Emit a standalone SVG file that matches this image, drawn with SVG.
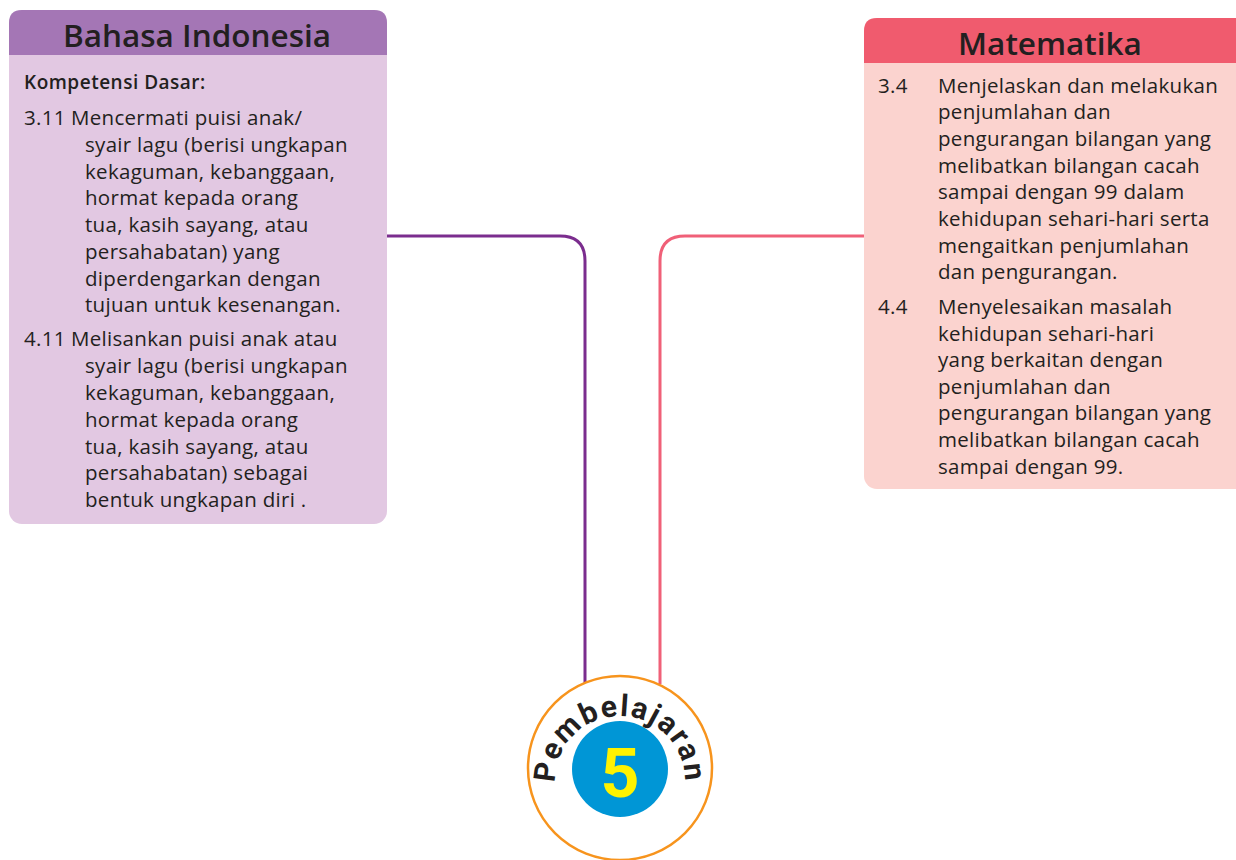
<svg xmlns="http://www.w3.org/2000/svg" width="1236" height="860" viewBox="0 0 1236 860">
<style>
.t{font-family:"Open Sans","Liberation Sans",sans-serif;font-size:20.5px;letter-spacing:0.3px;fill:#231f20}
.h{font-family:"Open Sans","Liberation Sans",sans-serif;font-size:31.5px;font-weight:600;fill:#231f20;text-anchor:middle}
.b{font-family:"Open Sans","Liberation Sans",sans-serif;font-size:19px;letter-spacing:0.5px;font-weight:600;fill:#231f20}
</style>
<rect width="1236" height="860" fill="#fff"/>
<g id="connectors" fill="none" stroke-width="3">
<path d="M387,236 H560 Q585,236 585,261 V684" stroke="#7b2d8e"/>
<path d="M864,236 H685 Q660,236 660,261 V684" stroke="#f06078"/>
</g>
<g id="bahasa">
<rect x="9" y="10" width="378" height="514" rx="13" fill="#e2c8e2"/>
<path d="M9,55 V23 Q9,10 22,10 H374 Q387,10 387,23 V55 Z" fill="#a476b5"/>
<text class="h" x="197" y="47">Bahasa Indonesia</text>
<text class="b" x="24" y="89">Kompetensi Dasar:</text>
<text class="t" x="24" y="125">3.11</text>
<text class="t" x="71" y="125">Mencermati puisi anak/</text>
<text class="t" x="85" y="152">syair lagu (berisi ungkapan</text>
<text class="t" x="85" y="179">kekaguman, kebanggaan,</text>
<text class="t" x="85" y="205">hormat kepada orang</text>
<text class="t" x="85" y="232">tua, kasih sayang, atau</text>
<text class="t" x="85" y="259">persahabatan) yang</text>
<text class="t" x="85" y="286">diperdengarkan dengan</text>
<text class="t" x="85" y="312">tujuan untuk kesenangan.</text>
<text class="t" x="24" y="346">4.11</text>
<text class="t" x="71" y="346">Melisankan puisi anak atau</text>
<text class="t" x="85" y="373">syair lagu (berisi ungkapan</text>
<text class="t" x="85" y="400">kekaguman, kebanggaan,</text>
<text class="t" x="85" y="427">hormat kepada orang</text>
<text class="t" x="85" y="454">tua, kasih sayang, atau</text>
<text class="t" x="85" y="480">persahabatan) sebagai</text>
<text class="t" x="85" y="507">bentuk ungkapan diri .</text>
</g>
<g id="matematika">
<rect x="864" y="18" width="390" height="471" rx="13" fill="#fbd3cf"/>
<path d="M864,63 V31 Q864,18 877,18 H1254 V63 Z" fill="#f05b6e"/>
<text class="h" x="1050" y="55">Matematika</text>
<text class="t" x="878" y="93">3.4</text>
<text class="t" x="938" y="93">Menjelaskan dan melakukan</text>
<text class="t" x="938" y="119">penjumlahan dan</text>
<text class="t" x="938" y="146">pengurangan bilangan yang</text>
<text class="t" x="938" y="173">melibatkan bilangan cacah</text>
<text class="t" x="938" y="199">sampai dengan 99 dalam</text>
<text class="t" x="938" y="226">kehidupan sehari-hari serta</text>
<text class="t" x="938" y="253">mengaitkan penjumlahan</text>
<text class="t" x="938" y="279">dan pengurangan.</text>
<text class="t" x="878" y="314">4.4</text>
<text class="t" x="938" y="314">Menyelesaikan masalah</text>
<text class="t" x="938" y="341">kehidupan sehari-hari</text>
<text class="t" x="938" y="367">yang berkaitan dengan</text>
<text class="t" x="938" y="394">penjumlahan dan</text>
<text class="t" x="938" y="420">pengurangan bilangan yang</text>
<text class="t" x="938" y="447">melibatkan bilangan cacah</text>
<text class="t" x="938" y="474">sampai dengan 99.</text>
</g>
<g id="pembelajaran">
<defs>
<path id="arc" d="M620,846 A65,65 0 0 1 620,716 A65,65 0 0 1 620,846"/>
</defs>
<circle cx="620" cy="768" r="92" fill="#fff" stroke="#f7941d" stroke-width="2.5"/>
<circle cx="620" cy="769" r="48" fill="#0096d6"/>
<text x="620" y="797" font-family="Roboto,sans-serif" font-weight="bold" font-size="68" fill="#fff200" text-anchor="middle">5</text>
<text font-family="Roboto,sans-serif" font-weight="bold" font-size="30" fill="#231f20" letter-spacing="1.8"><textPath href="#arc" startOffset="50%" text-anchor="middle">Pembelajaran</textPath></text>
</g>
</svg>
